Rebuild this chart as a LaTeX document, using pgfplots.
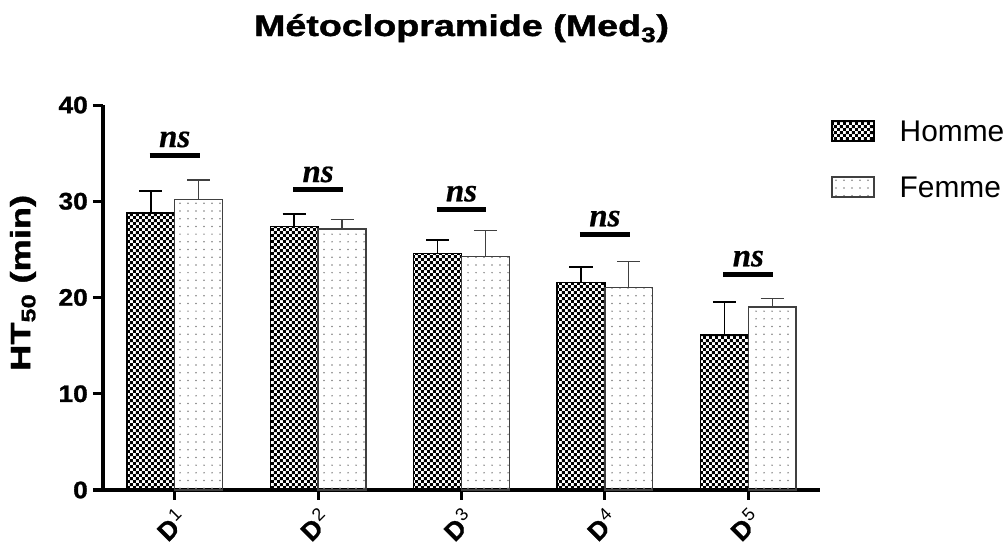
\documentclass[border=0pt]{standalone}
\usepackage{fontspec}
\setmainfont{Liberation Sans}[BoldFeatures={FakeBold=1.2}]
\newfontfamily\serifns{Liberation Serif}[BoldItalicFeatures={FakeBold=0.6}]
\usepackage{graphicx}
\usepackage{pgfplots}
\pgfplotsset{compat=1.18}
\usetikzlibrary{patterns}
\definecolor{fgray}{HTML}{404040}
\pgfdeclarepatternformonly{checkfine}{\pgfpointorigin}{\pgfqpoint{6.4bp}{6.4bp}}{\pgfqpoint{6.4bp}{6.4bp}}{%
 \pgfpathrectangle{\pgfpointorigin}{\pgfqpoint{3.2bp}{3.2bp}}%
 \pgfpathrectangle{\pgfqpoint{3.2bp}{3.2bp}}{\pgfqpoint{3.2bp}{3.2bp}}%
 \pgfusepath{fill}}
\pgfdeclarepatternformonly{sparsedots}{\pgfqpoint{-1bp}{-1bp}}{\pgfqpoint{9bp}{9bp}}{\pgfqpoint{8bp}{7.7bp}}{%
 \pgfpathcircle{\pgfqpoint{4bp}{3.85bp}}{0.85bp}\pgfusepath{fill}}
\newcommand{\Dlab}[1]{{\bfseries D\kern1bp\raisebox{9bp}{\mdseries\fontsize{18}{18}\selectfont #1}}}
\begin{document}
\begin{tikzpicture}
\begin{axis}[
  scale only axis, width=717bp, height=385bp,
  xmin=0.5, xmax=5.5, ymin=0, ymax=40,
  clip=false,
  axis lines=left, axis line style={-, line width=4bp, black},
  ytick={0,10,20,30,40}, xtick={1,2,3,4,5},
  xticklabels={\Dlab{1},\Dlab{2},\Dlab{3},\Dlab{4},\Dlab{5}},
  tick align=outside, major tick length=10bp,
  tick style={line width=3bp, black},
  /pgf/number format/assume math mode=true,
  yticklabel={\scalebox{1.1}[1]{\bfseries\pgfmathprintnumber{\tick}}},
  yticklabel style={font=\fontsize{24}{24}\selectfont, inner sep=0pt, xshift=-5bp},
  xticklabel style={font=\fontsize{26}{26}\selectfont, xshift=7bp, yshift=-14bp, rotate=45, anchor=east, inner sep=0pt},
  title={\scalebox{1.26}[1]{\bfseries Métoclopramide (Med\textsubscript{3})}},
  title style={font=\fontsize{30}{30}\selectfont, at={(0.5,1)}, anchor=base, yshift=63bp, inner sep=0pt},
  ylabel={\scalebox{1.3}[1]{\bfseries HT\textsubscript{50} (min)}},
  ylabel style={font=\fontsize{28}{28}\selectfont, at={(axis description cs:-0.1116,0.538)}, anchor=center, inner sep=0pt},
  ybar, bar width=0.333,
  legend cell align=left,
  legend style={at={(axis description cs:1.0153,0.9618)}, anchor=north west, draw=none, fill=none,
    font=\fontsize{30}{30}\selectfont, inner sep=0pt, row sep=34bp, column sep=25bp,
    nodes={inner sep=0pt, text height=22bp, text depth=0bp}},
  legend image code/.code={\draw[#1] (0bp,-10bp) rectangle (42bp,10bp);},
]
\addplot[draw=black, line width=1.5bp, pattern=checkfine, pattern color=black, bar shift=-0.1667,
  error bars/.cd, y dir=plus, y explicit,
  error bar style={line width=1.8bp, black},
  error mark options={rotate=90, line width=1.8bp, mark size=11.5bp, black}]
  coordinates {(1,28.8) +- (0,2.3) (2,27.36) +- (0,1.34) (3,24.55) +- (0,1.39) (4,21.54) +- (0,1.63) (5,16.1) +- (0,3.4)};
\addlegendentry{Homme}
\addplot[draw=fgray, line width=1.5bp, pattern=sparsedots, pattern color=gray, bar shift=0.1667,
  error bars/.cd, y dir=plus, y explicit,
  error bar style={line width=1.3bp, fgray},
  error mark options={rotate=90, line width=1.3bp, mark size=11.5bp, fgray}]
  coordinates {(1,30.2) +- (0,2.0) (2,27.1) +- (0,1.0) (3,24.24) +- (0,2.74) (4,21.02) +- (0,2.7) (5,19.0) +- (0,0.9)};
\addlegendentry{Femme}
% significance bars
\draw[line width=5bp] (axis cs:0.826,34.8) -- (axis cs:1.174,34.8);
\draw[line width=5bp] (axis cs:1.826,31.17) -- (axis cs:2.174,31.17);
\draw[line width=5bp] (axis cs:2.826,29.16) -- (axis cs:3.174,29.16);
\draw[line width=5bp] (axis cs:3.826,26.57) -- (axis cs:4.174,26.57);
\draw[line width=5bp] (axis cs:4.826,22.41) -- (axis cs:5.174,22.41);
\node[anchor=base, inner sep=0pt, font=\serifns\bfseries\itshape\fontsize{33}{33}\selectfont] at (axis cs:1,35.63) {ns};
\node[anchor=base, inner sep=0pt, font=\serifns\bfseries\itshape\fontsize{33}{33}\selectfont] at (axis cs:2,32.0) {ns};
\node[anchor=base, inner sep=0pt, font=\serifns\bfseries\itshape\fontsize{33}{33}\selectfont] at (axis cs:3,29.99) {ns};
\node[anchor=base, inner sep=0pt, font=\serifns\bfseries\itshape\fontsize{33}{33}\selectfont] at (axis cs:4,27.4) {ns};
\node[anchor=base, inner sep=0pt, font=\serifns\bfseries\itshape\fontsize{33}{33}\selectfont] at (axis cs:5,23.24) {ns};
\end{axis}
\pgfresetboundingbox
\path (-103bp,-56bp) rectangle (900bp,490bp);
\end{tikzpicture}
\end{document}
